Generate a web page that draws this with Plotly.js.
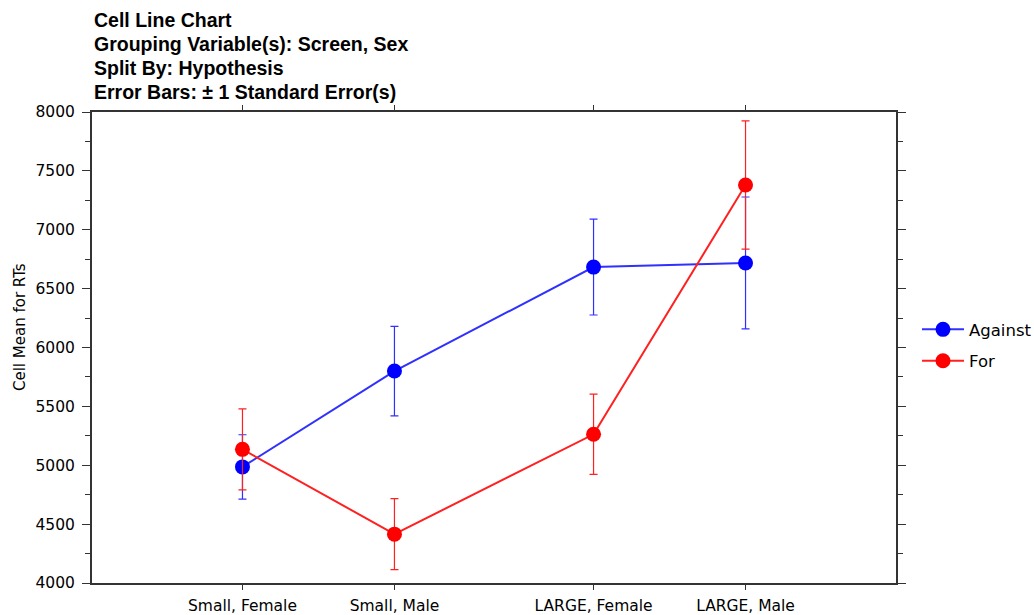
<!DOCTYPE html>
<html>
<head>
<meta charset="utf-8">
<script src="https://cdn.plot.ly/plotly-3.0.1.min.js"></script>
<style>html,body{margin:0;padding:0;background:#fff;}#chart{width:1034px;height:615px;}</style>
</head>
<body>
<div id="chart"></div>
<script>
// Data
var titleLines = ['Cell Line Chart', 'Grouping Variable(s): Screen, Sex', 'Split By: Hypothesis', 'Error Bars: ± 1 Standard Error(s)'];
var yTitle = 'Cell Mean for RTs';
var screens = ['Small', 'Small', 'LARGE', 'LARGE'];
var sexes = ['Female', 'Male', 'Female', 'Male'];
var againstMean = [4986, 5800, 6683, 6718];
var againstSE = [273, 380, 407, 560];
var forMean = [5135, 4415, 5263, 7380];
var forSE = [344, 301, 341, 545];

// Layout helpers: category positions with a gap between Screen groups
var groupGap = 0.31;
var groupOrder = [];
screens.forEach(function (s) { if (groupOrder.indexOf(s) < 0) groupOrder.push(s); });
var xPos = screens.map(function (s, i) { return 1 + i + groupOrder.indexOf(s) * groupGap; });
var tickText = screens.map(function (s, i) { return s + ', ' + sexes[i]; });

var FONT = 'DejaVu Sans, Arial, sans-serif';
var PLOT_T = 112, PLOT_H = 471, PLOT_L = 92, PLOT_W = 804;

function series(name, means, se, markerColor, lineColor, group) {
  return {
    type: 'scatter', mode: 'lines+markers', name: name, legendgroup: group,
    x: xPos, y: means,
    line: {color: lineColor, width: 2},
    marker: {color: markerColor, size: 15},
    error_y: {type: 'data', array: se, visible: true, color: lineColor, thickness: 1.2, width: 4}
  };
}

var traces = [
  series('Against', againstMean, againstSE, '#0000ff', '#3030ff', 'a'),
  series('For', forMean, forSE, '#ff0000', '#ff2020', 'b')
];

var annotations = titleLines.map(function (t, i) {
  var yc = 20 + i * 24;
  return {
    text: '<b>' + t + '</b>', showarrow: false,
    xref: 'paper', x: 0, xanchor: 'left',
    yref: 'paper', y: 1 + (PLOT_T - yc) / PLOT_H, yanchor: 'middle',
    font: {family: 'Liberation Sans, Arial, sans-serif', size: 19.5, color: '#000'}
  };
});
annotations.push({
  text: yTitle, showarrow: false, textangle: -90,
  xref: 'paper', x: (20 - PLOT_L) / PLOT_W, xanchor: 'center',
  yref: 'paper', y: (PLOT_T + PLOT_H - 327) / PLOT_H, yanchor: 'middle',
  font: {family: FONT, size: 15, color: '#000'}
});

var layout = {
  width: 1034, height: 615,
  margin: {l: 92, r: 138, t: 112, b: 32, pad: 0, autoexpand: false},
  paper_bgcolor: '#ffffff', plot_bgcolor: '#ffffff',
  font: {family: FONT, size: 15, color: '#000'},
  showlegend: true,
  legend: {
    x: 1.0261, xanchor: 'left', y: 0.505, yanchor: 'middle',
    traceorder: 'grouped', tracegroupgap: 7, itemwidth: 42,
    font: {family: FONT, size: 16.5, color: '#000'},
    bgcolor: 'rgba(0,0,0,0)'
  },
  annotations: annotations,
  xaxis: {
    range: [0.01, 5.30], tickmode: 'array', tickvals: xPos, ticktext: tickText,
    showgrid: false, zeroline: false,
    showline: true, linecolor: '#333', linewidth: 2, mirror: 'ticks',
    ticks: 'outside', ticklen: 5, tickcolor: '#333', tickwidth: 1,
    ticklabelstandoff: 2,
    tickfont: {family: FONT, size: 15.5, color: '#000'}
  },
  yaxis: {
    range: [4000, 8000], tickmode: 'linear', tick0: 4000, dtick: 500,
    showgrid: false, zeroline: false,
    showline: true, linecolor: '#333', linewidth: 2, mirror: 'ticks',
    ticks: 'outside', ticklen: 8, tickcolor: '#333', tickwidth: 1,
    ticklabelstandoff: 4,
    minor: {dtick: 250, ticks: 'outside', ticklen: 5, tickcolor: '#333', showgrid: false},
    tickfont: {family: FONT, size: 15.5, color: '#000'}
  }
};

Plotly.newPlot('chart', traces, layout, {displayModeBar: false, responsive: false});
</script>
</body>
</html>
